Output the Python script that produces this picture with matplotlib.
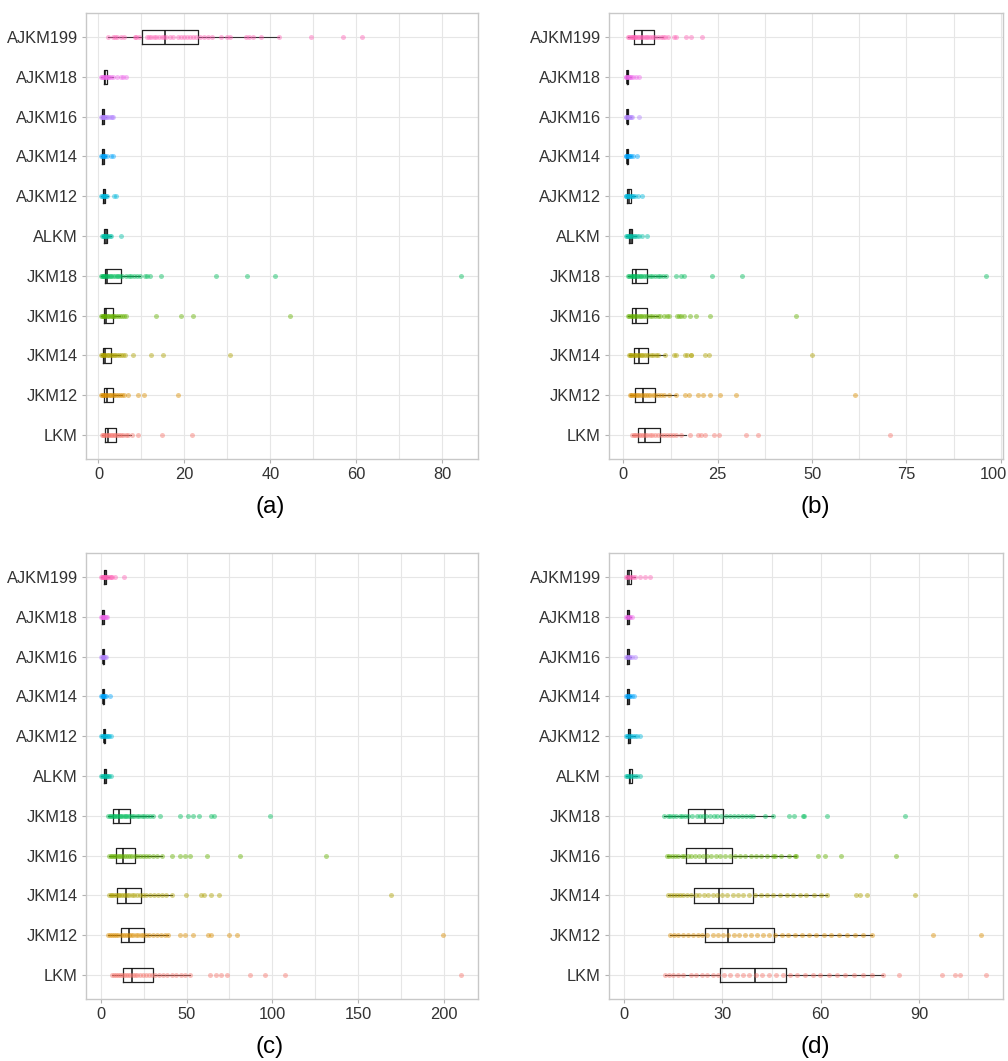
import numpy as np
import matplotlib
matplotlib.use('Agg')
import matplotlib.pyplot as plt
from matplotlib.transforms import ScaledTranslation

plt.rcParams['font.family'] = ['Liberation Sans', 'DejaVu Sans']

# categories from bottom to top, with the ggplot hue palette
cats = ['LKM', 'JKM12', 'JKM14', 'JKM16', 'JKM18', 'ALKM',
        'AJKM12', 'AJKM14', 'AJKM16', 'AJKM18', 'AJKM199']
colors = ['#F8766D', '#DB8E00', '#AEA200', '#64B200', '#00BD5C', '#00C1A7',
          '#00BADE', '#00A6FF', '#B385FF', '#EF67EB', '#FF63B6']

# ---- panel (a) ----
a_lo  = [0.9, 0.6, 0.6, 0.6, 0.6, 0.8, 0.6, 0.6, 0.6, 0.7, 2.3]
a_q1  = [1.6, 1.3, 1.1, 1.2, 1.55, 1.4, 1.1, 0.9, 0.9, 1.2, 10.2]
a_med = [2.3, 2.1, 1.55, 1.7, 2.1, 1.7, 1.3, 1.1, 1.1, 1.55, 15.5]
a_q3  = [4.0, 3.3, 2.8, 3.3, 5.2, 2.0, 1.6, 1.3, 1.3, 2.1, 23.1]
a_hi  = [7.5, 5.5, 5.0, 5.0, 9.6, 2.8, 2.2, 1.7, 1.8, 3.4, 42.0]
a_pts = [
    [0.9, 1.1, 1.3, 1.6, 1.9, 2.2, 2.5, 2.8, 3.1, 3.5, 3.9, 4.3, 4.8, 5.3, 5.8, 6.4, 6.9, 7.7, 9.3, 14.7, 21.8],
    [0.6, 0.8, 1.0, 1.2, 1.5, 1.8, 2.1, 2.4, 2.7, 3.0, 3.3, 3.7, 4.1, 4.5, 5.0, 5.5, 5.9, 6.9, 9.2, 10.5, 18.4],
    [0.6, 0.8, 1.0, 1.2, 1.4, 1.6, 1.9, 2.2, 2.5, 2.8, 3.1, 3.5, 3.9, 4.3, 4.8, 5.2, 5.6, 6.2, 8.1, 12.3, 15.0, 30.7],
    [0.6, 0.8, 1.0, 1.2, 1.4, 1.6, 1.9, 2.2, 2.5, 2.8, 3.1, 3.4, 3.7, 4.1, 4.5, 5.0, 5.5, 6.0, 6.5, 13.3, 19.1, 21.9, 44.6],
    [0.6, 0.8, 1.0, 1.2, 1.4, 1.7, 2.0, 2.3, 2.6, 3.0, 3.4, 3.8, 4.2, 4.6, 5.0, 5.5, 6.3, 7.0, 7.6, 8.2, 9.0, 9.6,
     10.9, 11.2, 12.0, 14.5, 27.4, 34.6, 41.1, 84.3],
    [0.8, 1.0, 1.2, 1.4, 1.6, 1.8, 2.0, 2.3, 2.6, 2.8, 5.2],
    [0.6, 0.8, 1.0, 1.2, 1.4, 1.6, 1.8, 2.0, 3.6, 4.0],
    [0.6, 0.8, 1.0, 1.2, 1.4, 1.6, 1.9, 2.9, 3.4],
    [0.6, 0.8, 1.0, 1.1, 1.3, 1.5, 1.7, 2.0, 2.4, 2.8, 3.1, 3.4],
    [0.7, 0.9, 1.1, 1.3, 1.5, 1.7, 1.9, 2.2, 2.5, 2.8, 3.3, 4.2, 5.3, 5.8, 6.4],
    [2.3, 3.3, 3.8, 4.3, 5.3, 5.9, 8.4, 8.8, 9.5, 11.2, 11.8, 12.3, 12.9, 13.5, 14.1, 14.7, 15.2, 15.8, 16.6, 17.4,
     18.5, 19.3, 19.8, 20.5, 21.2, 22.0, 22.8, 23.6, 24.5, 25.5, 26.5, 28.6, 29.8, 30.5, 34.4, 35.0, 36.0, 37.9,
     42.0, 49.4, 57.0, 61.2],
]

# ---- panel (b) ----
b_lo  = [2.4, 1.7, 1.5, 1.3, 1.3, 0.8, 0.6, 0.6, 0.6, 0.6, 1.3]
b_q1  = [3.9, 3.1, 2.7, 2.4, 2.4, 1.5, 1.1, 0.9, 0.9, 0.9, 2.8]
b_med = [5.7, 5.2, 4.2, 3.4, 3.3, 1.9, 1.5, 1.1, 1.1, 1.1, 4.9]
b_q3  = [9.6, 8.3, 6.6, 6.3, 6.2, 2.3, 1.9, 1.3, 1.3, 1.3, 8.0]
b_hi  = [16.5, 14.0, 11.0, 9.2, 11.4, 3.4, 3.0, 1.9, 1.9, 1.9, 10.5]
b_pts = [
    [2.4, 2.8, 3.2, 3.7, 4.2, 4.7, 5.2, 5.8, 6.4, 7.0, 7.7, 8.4, 9.1, 9.9, 10.7, 11.5, 12.4, 13.2, 14.0, 15.4,
     17.6, 19.8, 20.7, 21.6, 23.9, 25.4, 32.4, 35.6, 70.6],
    [1.7, 2.0, 2.3, 2.7, 3.1, 3.5, 3.9, 4.4, 4.9, 5.4, 5.9, 6.5, 7.1, 7.8, 8.5, 9.2, 10.0, 10.8, 12.1, 14.0,
     16.3, 17.4, 19.8, 21.1, 22.9, 25.7, 29.9, 61.4],
    [1.5, 1.8, 2.1, 2.4, 2.7, 3.0, 3.4, 3.8, 4.2, 4.6, 5.0, 5.5, 6.0, 6.6, 7.2, 7.8, 8.6, 9.2, 11.0, 13.3, 13.9,
     16.3, 16.9, 17.8, 18.0, 21.7, 22.6, 50.0],
    [1.3, 1.6, 1.9, 2.2, 2.6, 3.0, 3.4, 3.8, 4.3, 4.8, 5.3, 5.8, 6.4, 7.0, 7.7, 8.4, 9.2, 9.8, 10.8, 11.7, 12.0,
     14.2, 14.8, 15.4, 16.2, 17.7, 19.3, 22.9, 45.7],
    [1.3, 1.6, 1.9, 2.2, 2.5, 2.8, 3.1, 3.5, 3.9, 4.3, 4.8, 5.3, 5.8, 6.4, 7.0, 7.7, 8.4, 9.1, 9.8, 10.6, 11.4,
     14.0, 15.4, 16.0, 23.5, 31.5, 96.0],
    [0.8, 1.0, 1.3, 1.5, 1.8, 2.1, 2.4, 2.8, 3.2, 3.6, 4.2, 5.0, 6.2],
    [0.6, 0.8, 1.0, 1.2, 1.4, 1.6, 1.9, 2.2, 2.6, 3.0, 3.9, 5.0],
    [0.6, 0.8, 1.0, 1.2, 1.4, 1.7, 2.0, 2.6, 3.6],
    [0.6, 0.8, 1.0, 1.2, 1.4, 1.7, 2.0, 2.4, 4.1],
    [0.6, 0.8, 1.0, 1.2, 1.4, 1.7, 2.0, 2.5, 3.4, 4.2],
    [1.3, 1.6, 1.9, 2.2, 2.5, 2.8, 3.1, 3.4, 3.8, 4.2, 4.6, 5.0, 5.4, 5.9, 6.3, 6.8, 7.3, 7.9, 8.5, 9.2, 9.9,
     10.5, 11.0, 11.8, 13.3, 14.0, 16.5, 17.8, 20.9],
]

# ---- panel (c) ----
c_lo  = [6.4, 4.5, 5.0, 5.0, 4.5, 0.4, 0.4, 0.4, 0.4, 0.4, 0.4]
c_q1  = [13.2, 11.6, 9.3, 8.7, 7.4, 2.0, 1.7, 1.2, 1.2, 1.1, 1.9]
c_med = [18.4, 16.7, 14.5, 13.2, 10.7, 2.5, 2.1, 1.5, 1.5, 1.4, 2.5]
c_q3  = [30.4, 25.2, 23.3, 20.2, 17.1, 3.0, 2.6, 1.8, 1.8, 1.7, 3.1]
c_hi  = [51.9, 39.3, 41.3, 35.9, 30.6, 4.5, 3.9, 2.6, 2.6, 2.3, 4.8]
c_pts = [
    [6.4, 7.6, 8.8, 10.0, 11.2, 12.4, 13.6, 14.8, 16.0, 17.3, 18.6, 20.0, 21.4, 22.9, 24.5, 26.2, 28.0, 29.9,
     31.9, 34.0, 36.3, 38.7, 41.3, 44.1, 47.0, 49.3, 51.9, 63.9, 67.1, 70.3, 73.3, 87.2, 95.9, 107.2, 209.7],
    [4.5, 5.6, 6.8, 8.0, 9.2, 10.4, 11.6, 12.8, 14.0, 15.2, 16.4, 17.7, 19.0, 20.4, 21.8, 23.3, 24.9, 26.6,
     28.4, 30.4, 32.6, 35.0, 37.2, 39.3, 46.1, 49.0, 53.5, 62.6, 64.0, 74.8, 79.5, 199.2],
    [5.0, 5.9, 6.9, 7.9, 8.9, 9.9, 10.9, 12.0, 13.1, 14.3, 15.5, 16.8, 18.2, 19.7, 21.3, 23.0, 24.8, 26.7,
     28.7, 30.9, 33.3, 35.6, 37.9, 41.3, 49.6, 58.7, 60.1, 64.1, 68.8, 169.2],
    [5.0, 5.9, 6.8, 7.7, 8.6, 9.5, 10.5, 11.5, 12.5, 13.6, 14.7, 15.9, 17.1, 18.4, 19.8, 21.3, 22.9, 24.6,
     26.4, 28.3, 30.4, 32.8, 35.9, 41.3, 46.1, 49.0, 52.3, 62.0, 81.4, 131.4],
    [4.5, 5.3, 6.1, 7.0, 7.8, 8.6, 9.5, 10.3, 11.2, 12.1, 13.0, 14.0, 15.0, 16.1, 17.2, 18.4, 19.6, 20.9,
     22.3, 23.8, 25.2, 26.8, 28.5, 30.6, 34.5, 46.1, 50.6, 53.9, 57.2, 64.5, 65.9, 98.8],
    [0.4, 0.9, 1.4, 1.9, 2.4, 2.9, 3.5, 4.2, 5.0, 5.8],
    [0.4, 0.9, 1.4, 1.9, 2.4, 2.9, 3.5, 4.2, 5.0, 5.8],
    [0.4, 0.8, 1.2, 1.6, 2.0, 2.5, 3.2, 5.4],
    [0.4, 0.8, 1.2, 1.6, 2.0, 2.5, 3.1],
    [0.4, 0.8, 1.2, 1.6, 2.0, 2.5, 3.2, 3.9],
    [0.4, 0.8, 1.2, 1.6, 2.0, 2.4, 2.8, 3.3, 3.9, 4.5, 5.2, 6.0, 6.8, 8.3, 13.6],
]

# ---- panel (d) ----
d_lo  = [12.4, 13.9, 13.4, 13.2, 12.1, 0.5, 0.5, 0.5, 0.5, 0.5, 0.5]
d_q1  = [29.4, 24.7, 21.2, 19.0, 19.5, 1.5, 1.2, 0.9, 0.9, 0.9, 1.0]
d_med = [39.8, 31.7, 29.0, 25.1, 24.6, 1.9, 1.5, 1.1, 1.1, 1.1, 1.4]
d_q3  = [49.4, 45.8, 39.2, 32.9, 30.3, 2.4, 1.9, 1.4, 1.4, 1.4, 2.0]
d_hi  = [79.0, 75.5, 61.9, 52.6, 45.5, 3.9, 3.2, 2.2, 2.2, 2.2, 3.4]
d_pts = [
    [12.4, 13.6, 15.0, 16.5, 18.1, 20.3, 22.0, 23.7, 25.4, 27.1, 28.8, 30.6, 32.4, 34.3, 36.2, 38.1, 40.1,
     42.1, 44.2, 46.3, 48.4, 50.6, 52.9, 55.2, 57.5, 59.9, 62.4, 64.9, 67.5, 70.1, 72.8, 75.5, 79.0,
     83.9, 97.1, 100.9, 102.6, 110.3],
    [13.9, 15.1, 16.5, 17.9, 19.4, 20.9, 22.4, 23.9, 25.4, 27.0, 28.6, 30.2, 31.8, 33.5, 35.2, 36.9, 38.7,
     40.5, 42.3, 44.2, 46.1, 48.1, 50.1, 52.1, 54.2, 56.3, 58.6, 60.9, 63.2, 65.6, 68.1, 70.6, 73.0, 75.5,
     94.3, 108.8],
    [13.4, 14.2, 15.1, 16.0, 17.0, 18.1, 19.3, 20.5, 21.8, 23.0, 24.3, 25.7, 27.1, 28.5, 30.0, 31.5, 33.1,
     34.7, 36.4, 38.1, 39.9, 41.7, 43.6, 45.5, 47.5, 49.6, 51.6, 53.8, 55.6, 57.9, 60.0, 61.9,
     70.7, 72.1, 74.2, 88.7],
    [13.2, 13.8, 14.6, 15.4, 16.5, 17.6, 18.4, 19.4, 20.5, 21.6, 22.8, 24.0, 25.3, 26.6, 27.9, 29.3, 30.8,
     32.2, 33.8, 35.4, 36.9, 38.6, 40.2, 41.8, 43.6, 45.3, 46.1, 48.0, 50.2, 52.0, 52.6,
     59.2, 61.2, 66.1, 83.1],
    [12.1, 13.4, 14.1, 14.9, 15.9, 17.0, 17.8, 18.5, 19.5, 20.8, 22.1, 23.1, 24.1, 25.1, 26.1, 27.4, 28.4,
     29.7, 31.2, 32.2, 33.5, 34.8, 36.1, 37.3, 38.3, 39.4, 42.9, 45.5, 50.3, 51.8, 54.6, 55.0, 61.9, 85.6],
    [0.5, 0.9, 1.3, 1.7, 2.1, 2.6, 3.2, 3.9, 5.0],
    [0.5, 0.9, 1.3, 1.7, 2.1, 2.6, 3.2, 3.9, 4.8],
    [0.5, 0.8, 1.1, 1.4, 1.8, 2.3, 2.9],
    [0.5, 0.8, 1.1, 1.4, 1.8, 2.4, 3.2],
    [0.5, 0.8, 1.1, 1.4, 1.8, 2.3],
    [0.5, 0.9, 1.3, 1.7, 2.1, 2.6, 3.2, 4.8, 6.3, 7.8],
]


def draw_panel(ax, pts, lo, q1, med, q3, hi, xlim, major, minor):
    pos = np.arange(1, len(cats) + 1)
    stats = [dict(whislo=lo[i], q1=q1[i], med=med[i], q3=q3[i], whishi=hi[i], fliers=[])
             for i in range(len(cats))]
    ax.bxp(stats, positions=pos, widths=0.36, orientation='horizontal',
           showfliers=False, showcaps=False, manage_ticks=False,
           boxprops=dict(color='#222222', linewidth=0.9),
           whiskerprops=dict(color='#333333', linewidth=0.8),
           medianprops=dict(color='#111111', linewidth=1.1), zorder=2)
    # points go on top of the boxes
    for i, vals in enumerate(pts):
        ax.scatter(vals, np.full(len(vals), pos[i]), s=13, color=colors[i],
                   alpha=0.45, linewidths=0, zorder=3)
    ax.set_xlim(*xlim)
    ax.set_ylim(0.4, len(cats) + 0.6)
    ax.set_yticks(pos)
    ax.set_yticklabels(cats)
    ax.set_xticks(major)
    ax.set_xticks(minor, minor=True)
    ax.grid(True, which='both', axis='x', color='#E6E6E6', linewidth=0.8, zorder=0)
    ax.grid(True, which='major', axis='y', color='#E6E6E6', linewidth=0.8, zorder=0)
    ax.set_axisbelow(True)
    ax.tick_params(which='major', length=3, width=0.8, color='#B3B3B3',
                   labelsize=11.8, labelcolor='#333333', pad=3)
    ax.tick_params(which='minor', length=0)
    for s in ax.spines.values():
        s.set_color('#C8C8C8')
        s.set_linewidth(1.0)


fig = plt.figure(figsize=(10.08, 10.61), dpi=100)
W, H = 1008.0, 1061.0

def add_ax(l, t, r, b):
    return fig.add_axes([l / W, 1 - b / H, (r - l) / W, (b - t) / H])

ax_a = add_ax(86, 13, 478, 459)
ax_b = add_ax(609, 13, 1003, 459)
ax_c = add_ax(86, 553, 478, 999)
ax_d = add_ax(609, 553, 1003, 999)

draw_panel(ax_a, a_pts, a_lo, a_q1, a_med, a_q3, a_hi, (-2.9, 88.3),
           [0, 20, 40, 60, 80], [10, 30, 50, 70])
draw_panel(ax_b, b_pts, b_lo, b_q1, b_med, b_q3, b_hi, (-3.8, 100.6),
           [0, 25, 50, 75, 100], [12.5, 37.5, 62.5, 87.5])
draw_panel(ax_c, c_pts, c_lo, c_q1, c_med, c_q3, c_hi, (-8.5, 219.6),
           [0, 50, 100, 150, 200], [25, 75, 125, 175])
draw_panel(ax_d, d_pts, d_lo, d_q1, d_med, d_q3, d_hi, (-4.6, 115.6),
           [0, 30, 60, 90], [15, 45, 75, 105])

# keep the "100" label inside the figure edge
last = ax_b.get_xticklabels()[-1]
last.set_transform(last.get_transform() + ScaledTranslation(-5 / 72, 0, fig.dpi_scale_trans))

for label, x, y in [('(a)', 270, 507), ('(b)', 815, 507), ('(c)', 270, 1047), ('(d)', 815, 1047)]:
    fig.text(x / W, 1 - y / H, label, ha='center', va='center', fontsize=17.5, color='black')

fig.savefig('out.png', dpi=100)
